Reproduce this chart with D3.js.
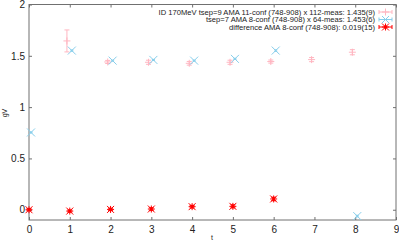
<!DOCTYPE html>
<html>
<head>
<meta charset="utf-8">
<script src="https://cdn.jsdelivr.net/npm/d3@7"></script>
<style>
body { margin: 0; background: #fff; }
text { font-family: "Liberation Sans", Arial, sans-serif; fill: #222; }
</style>
</head>
<body>
<script>
// tsep=9 series (pink)
var pinkT = [1, 2, 3, 4, 5, 6, 7, 8];
var pinkV = [1.645, 1.44, 1.437, 1.427, 1.437, 1.444, 1.463, 1.535];
var pinkE = [0.107, 0.015, 0.02, 0.018, 0.02, 0.015, 0.02, 0.025];
// tsep=7 series (blue)
var blueT = [0, 1, 2, 3, 4, 5, 6, 8];
var blueV = [0.753, 1.551, 1.453, 1.46, 1.453, 1.47, 1.551, -0.062];
var blueE = [0.005, 0.006, 0.005, 0.005, 0.005, 0.006, 0.007, 0.008];
// difference (red)
var redT = [0, 1, 2, 3, 4, 5, 6];
var redV = [0.0, -0.013, 0.003, 0.007, 0.03, 0.033, 0.105];
var redE = [0.01, 0.01, 0.012, 0.012, 0.013, 0.015, 0.017];

var xTicks = [0, 1, 2, 3, 4, 5, 6, 7, 8, 9];
var yTicks = [0, 0.5, 1, 1.5, 2];
var legendLabels = [
  "ID 170MeV tsep=9 AMA 11-conf (748-908) x 112-meas: 1.435(9)",
  "tsep=7 AMA 8-conf (748-908) x 64-meas: 1.453(6)",
  "difference AMA 8-conf (748-908): 0.019(15)"
];

var W = 399, H = 242;
var svg = d3.select("body").append("svg").attr("width", W).attr("height", H);

var x = d3.scaleLinear().domain([0, 9]).range([29, 396]);
var y = d3.scaleLinear().domain([-0.1, 2]).range([220, 4.5]);

var axisCol = "#707070";

// frame
svg.append("rect")
  .attr("x", x(0)).attr("y", y(2))
  .attr("width", x(9) - x(0)).attr("height", y(-0.1) - y(2))
  .attr("fill", "none").attr("stroke", axisCol).attr("stroke-width", 1);

// axes with inward ticks
var ax = svg.append("g").attr("font-size", 7);
ax.append("g").attr("transform", "translate(0," + y(-0.1) + ")")
  .call(d3.axisBottom(x).tickValues(xTicks).tickSize(-3).tickPadding(6).tickFormat(d3.format("d")));
ax.append("g").attr("transform", "translate(0," + y(2) + ")")
  .call(d3.axisTop(x).tickValues(xTicks).tickSize(-3).tickFormat(""));
ax.append("g").attr("transform", "translate(" + x(0) + ",0)")
  .call(d3.axisLeft(y).tickValues(yTicks).tickSize(-3).tickPadding(4).tickFormat(d3.format("")));
ax.append("g").attr("transform", "translate(" + x(9) + ",0)")
  .call(d3.axisRight(y).tickValues(yTicks).tickSize(-3).tickFormat(""));
ax.selectAll(".domain").remove();
ax.selectAll("line").attr("stroke", axisCol);
ax.selectAll("text").attr("fill", "#222").attr("font-family", "Liberation Sans, Arial, sans-serif");

// axis labels
svg.append("text").attr("x", 212).attr("y", 240).attr("font-size", 7).attr("text-anchor", "middle").text("t");
svg.append("text").attr("transform", "translate(7,113) rotate(-90)").attr("font-size", 7)
  .attr("text-anchor", "middle").text("gV");

function mark(g, type, cx, cy, r, col) {
  if (type === "plus" || type === "star") {
    g.append("line").attr("x1", cx - r).attr("x2", cx + r).attr("y1", cy).attr("y2", cy).attr("stroke", col);
    g.append("line").attr("x1", cx).attr("x2", cx).attr("y1", cy - r).attr("y2", cy + r).attr("stroke", col);
  }
  if (type === "cross" || type === "star") {
    g.append("line").attr("x1", cx - r).attr("x2", cx + r).attr("y1", cy - r).attr("y2", cy + r).attr("stroke", col);
    g.append("line").attr("x1", cx - r).attr("x2", cx + r).attr("y1", cy + r).attr("y2", cy - r).attr("stroke", col);
  }
}

function series(T, V, E, dx, type, col, r, cap) {
  var g = svg.append("g");
  T.forEach(function(t, i) {
    var cx = x(t + dx), cy = y(V[i]);
    var y1 = y(V[i] + E[i]), y2 = y(V[i] - E[i]);
    g.append("line").attr("x1", cx).attr("x2", cx).attr("y1", y1).attr("y2", y2).attr("stroke", col);
    g.append("line").attr("x1", cx - cap).attr("x2", cx + cap).attr("y1", y1).attr("y2", y1).attr("stroke", col);
    g.append("line").attr("x1", cx - cap).attr("x2", cx + cap).attr("y1", y2).attr("y2", y2).attr("stroke", col);
    mark(g, type, cx, cy, r, col);
    if (type === "star") g.append("rect").attr("x", cx - 1.5).attr("y", cy - 1.5).attr("width", 3).attr("height", 3).attr("fill", col);
  });
}

var pinkCol = "#ffb6c1", blueCol = "#87ceeb", redCol = "#ff0000";
series(pinkT, pinkV, pinkE, -0.07, "plus", pinkCol, 3.5, 2.5);
series(blueT, blueV, blueE, 0.05, "cross", blueCol, 4, 1.5);
series(redT, redV, redE, 0, "star", redCol, 3.5, 2.5);

// legend
var cols = [pinkCol, blueCol, redCol], types = ["plus", "cross", "star"];
var lg = svg.append("g");
legendLabels.forEach(function(s, i) {
  var ly = 12 + i * 7.5;
  lg.append("text").attr("x", 375).attr("y", ly + 2.7).attr("font-size", 7.6).attr("text-anchor", "end").text(s);
  lg.append("line").attr("x1", 379).attr("x2", 392).attr("y1", ly).attr("y2", ly).attr("stroke", cols[i]);
  lg.append("line").attr("x1", 379).attr("x2", 379).attr("y1", ly - 2).attr("y2", ly + 2).attr("stroke", cols[i]);
  lg.append("line").attr("x1", 392).attr("x2", 392).attr("y1", ly - 2).attr("y2", ly + 2).attr("stroke", cols[i]);
  mark(lg, types[i], 385.5, ly, 3.5, cols[i]);
  if (types[i] === "star") lg.append("rect").attr("x", 384).attr("y", ly - 1.5).attr("width", 3).attr("height", 3).attr("fill", cols[i]);
});
</script>
</body>
</html>
